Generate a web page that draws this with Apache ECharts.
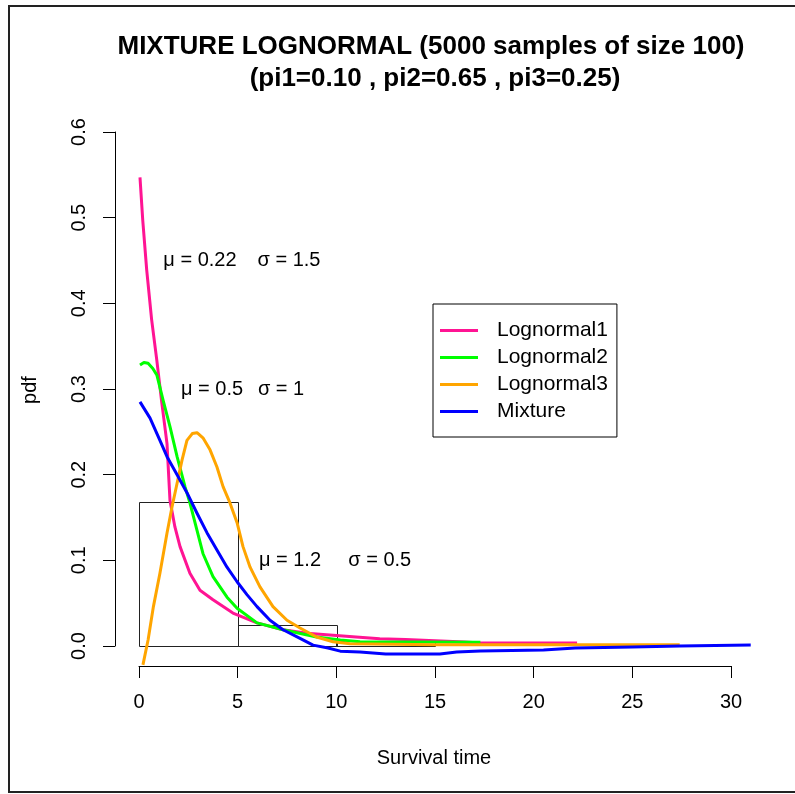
<!DOCTYPE html>
<html>
<head>
<meta charset="utf-8">
<script src="https://cdn.jsdelivr.net/npm/echarts@6/dist/echarts.min.js"></script>
<style>
html,body{margin:0;padding:0;background:#fff;}
#chart{width:795px;height:794px;}
</style>
</head>
<body>
<div id="chart"></div>
<script>
// ---- data ----
const titleLines = ['MIXTURE LOGNORMAL (5000 samples of size 100)', '(pi1=0.10 , pi2=0.65 , pi3=0.25)'];
const xTicks = [0, 5, 10, 15, 20, 25, 30];
const yTicks = [0.0, 0.1, 0.2, 0.3, 0.4, 0.5, 0.6];
const seriesNames = ['Lognormal1', 'Lognormal2', 'Lognormal3', 'Mixture'];
const seriesColors = ['#FF1493', '#00FF00', '#FFA500', '#0000FF'];

const histBreaks = [0, 5, 10, 15];
const histHeights = [0.168, 0.0245, 0.006];

const lognormal1 = [[0.05,0.547],[0.19,0.497],[0.39,0.439],[0.64,0.381],[0.90,0.334],[1.15,0.285],[1.42,0.236],[1.57,0.170],[1.82,0.139],[2.08,0.116],[2.58,0.085],[3.09,0.065],[3.75,0.054],[4.76,0.0385],[5.98,0.027],[7.30,0.019],[8.51,0.015],[9.83,0.0125],[11.0,0.0105],[12.2,0.0085],[13.5,0.0075],[15.0,0.006],[16.5,0.0047],[17.3,0.0036],[20.0,0.0035],[22.2,0.0035]];
const lognormal2 = [[0.05,0.328],[0.25,0.331],[0.46,0.330],[0.70,0.324],[0.91,0.316],[1.22,0.287],[1.57,0.256],[1.93,0.221],[2.33,0.186],[2.58,0.167],[2.94,0.135],[3.24,0.108],[3.75,0.081],[4.46,0.057],[4.97,0.044],[5.98,0.027],[7.30,0.019],[9.00,0.0105],[10.2,0.0070],[11.2,0.0050],[14.0,0.0047],[17.3,0.0045]];
const lognormal3 = [[0.2,-0.022],[0.46,0.007],[0.73,0.046],[1.06,0.085],[1.42,0.132],[1.67,0.162],[1.93,0.190],[2.18,0.217],[2.43,0.240],[2.70,0.248],[2.94,0.249],[3.24,0.243],[3.60,0.229],[3.95,0.209],[4.26,0.186],[4.61,0.167],[4.97,0.144],[5.27,0.116],[5.63,0.092],[6.13,0.069],[6.79,0.046],[7.50,0.030],[8.16,0.021],[9.00,0.0105],[9.83,0.005],[10.7,0.0025],[15.0,0.0015],[20.0,0.0015],[25.0,0.0015],[27.4,0.0015]];
const mixture = [[0.05,0.285],[0.56,0.266],[1.06,0.240],[1.42,0.221],[1.93,0.200],[2.43,0.179],[2.94,0.155],[3.45,0.132],[3.95,0.112],[4.46,0.092],[4.97,0.075],[5.47,0.060],[5.98,0.046],[6.64,0.030],[7.30,0.019],[8.16,0.009],[8.82,0.001],[9.58,-0.0023],[10.2,-0.006],[11.2,-0.007],[12.5,-0.0093],[15.25,-0.0093],[16.1,-0.007],[17.3,-0.0058],[20.5,-0.0047],[22.1,-0.0023],[25.0,-0.0012],[27.4,0.0],[31.0,0.0012]];

const annotations = [
  {value: [3.09, 0.45], name: 'μ = 0.22'},
  {value: [7.6, 0.45], name: 'σ = 1.5'},
  {value: [3.7, 0.30], name: 'μ = 0.5'},
  {value: [7.2, 0.30], name: 'σ = 1'},
  {value: [7.65, 0.10], name: 'μ = 1.2'},
  {value: [12.2, 0.10], name: 'σ = 0.5'}
];
const xLabel = 'Survival time';
const yLabel = 'pdf';

// ---- chart ----
const FONT = '"Liberation Sans", Arial, sans-serif';
const chart = echarts.init(document.getElementById('chart'), null, {renderer: 'canvas'});

const histData = histHeights.map((h, i) => [histBreaks[i], histBreaks[i + 1], h]);
const curves = [lognormal1, lognormal2, lognormal3, mixture];

function curveSeries(d, i) {
  return {
    type: 'custom', name: seriesNames[i], data: d, clip: false, z: 2 + i,
    encode: {x: 0, y: 1},
    itemStyle: {color: seriesColors[i]},
    renderItem: (params, api) => {
      if (params.dataIndex !== 0) return {type: 'group', children: []};
      const pts = d.map(p => api.coord(p));
      return {
        type: 'polyline',
        shape: {points: pts},
        style: {stroke: seriesColors[i], lineWidth: 3, fill: null, lineJoin: 'round', lineCap: 'butt'}
      };
    }
  };
}

const option = {
  animation: false,
  backgroundColor: '#fff',
  grid: {left: 139, right: 64, top: 132, bottom: 148, containLabel: false},
  xAxis: {
    type: 'value', min: xTicks[0], max: xTicks[xTicks.length - 1], interval: 5,
    offset: 20,
    axisLine: {show: true, onZero: false, lineStyle: {color: '#000', width: 1}},
    axisTick: {show: true, length: 12, lineStyle: {color: '#000'}},
    axisLabel: {fontSize: 20, fontFamily: FONT, color: '#000', margin: 26, formatter: v => String(v)},
    splitLine: {show: false}
  },
  yAxis: {
    type: 'value', min: yTicks[0], max: yTicks[yTicks.length - 1], interval: 0.1,
    offset: 24,
    axisLine: {show: true, onZero: false, lineStyle: {color: '#000', width: 1}},
    axisTick: {show: true, length: 12, lineStyle: {color: '#000'}},
    axisLabel: {fontSize: 20, fontFamily: FONT, color: '#000', margin: 26, rotate: 90, formatter: v => v.toFixed(1)},
    splitLine: {show: false}
  },
  legend: {
    data: seriesNames,
    orient: 'vertical',
    left: 433, top: 304,
    padding: [16, 9, 15, 7],
    itemWidth: 38, itemHeight: 3, itemGap: 6,
    icon: 'rect',
    borderColor: '#000', borderWidth: 1, borderRadius: 0,
    textStyle: {fontSize: 21, fontFamily: FONT, color: '#000', lineHeight: 20, padding: [0, 0, 0, 14]}
  },
  graphic: [
    {type: 'rect', shape: {x: 9, y: 6, width: 800, height: 786}, style: {fill: 'none', stroke: '#222', lineWidth: 2}, silent: true},
    {type: 'text', x: 431, y: 47, style: {text: titleLines[0], font: 'bold 26px ' + FONT, fill: '#000', textAlign: 'center', textVerticalAlign: 'middle'}},
    {type: 'text', x: 435, y: 79, style: {text: titleLines[1], font: 'bold 26px ' + FONT, fill: '#000', textAlign: 'center', textVerticalAlign: 'middle'}},
    {type: 'text', x: 434, y: 758, style: {text: xLabel, font: '20px ' + FONT, fill: '#000', textAlign: 'center', textVerticalAlign: 'middle'}},
    {type: 'text', x: 30, y: 390, rotation: Math.PI / 2, style: {text: yLabel, font: '20px ' + FONT, fill: '#000', textAlign: 'center', textVerticalAlign: 'middle'}}
  ],
  series: [
    {
      type: 'custom', name: 'hist', clip: false, z: 1,
      data: histData,
      renderItem: (params, api) => {
        const p0 = api.coord([api.value(0), api.value(2)]);
        const p1 = api.coord([api.value(1), 0]);
        return {
          type: 'rect',
          shape: {x: Math.round(p0[0]) + 0.5, y: Math.round(p0[1]) + 0.5, width: Math.round(p1[0] - p0[0]), height: Math.round(p1[1] - p0[1])},
          style: {fill: 'none', stroke: '#222', lineWidth: 1}
        };
      }
    }
  ].concat(curves.map(curveSeries)).concat([{
    type: 'scatter', name: 'annot', data: annotations, clip: false,
    symbol: 'circle', symbolSize: 1, itemStyle: {color: '#fff', opacity: 1},
    label: {show: true, position: 'inside', formatter: '{b}', fontSize: 20, fontFamily: FONT, color: '#000', opacity: 1, textBorderWidth: 0},
    z: 10
  }])
};
chart.setOption(option);
</script>
</body>
</html>
